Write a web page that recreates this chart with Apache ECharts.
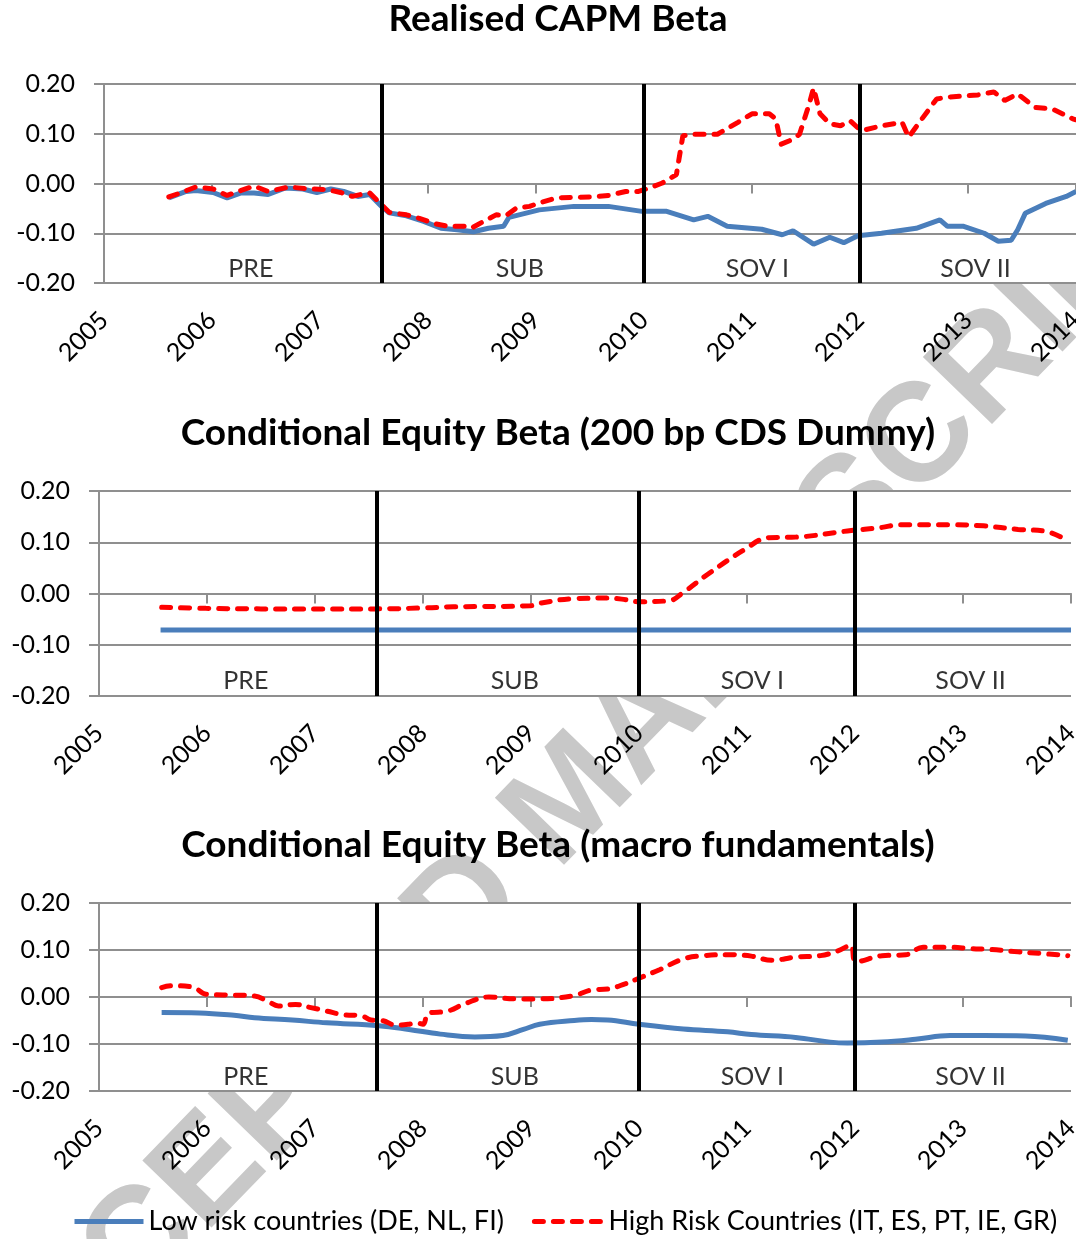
<!DOCTYPE html>
<html>
<head>
<meta charset="utf-8">
<script src="https://cdn.jsdelivr.net/npm/echarts@6/dist/echarts.min.js"></script>
<style>
  html, body { margin: 0; padding: 0; background: #fff; }
  #chart { width: 1076px; height: 1239px; }
</style>
</head>
<body>
<div id="chart"></div>
<script>
// panel titles
const panelTitles = [
  'Realised CAPM Beta',
  'Conditional Equity Beta (200 bp CDS Dummy)',
  'Conditional Equity Beta (macro fundamentals)'
];
const lowName = 'Low risk countries (DE, NL, FI)';
const highName = 'High Risk Countries (IT, ES, PT, IE, GR)';

// period markers
const periodNames = ['PRE', 'SUB', 'SOV I', 'SOV II'];
const periodX = [2006.36, 2008.85, 2011.05, 2013.07];
const periodY = -0.171;
const breakYears = [2007.57, 2010, 2012];

// [decimal year, beta]
const realisedLow = [
  [2005.60,-0.029],[2005.76,-0.016],[2005.85,-0.014],[2006.01,-0.018],[2006.14,-0.029],[2006.27,-0.019],
  [2006.39,-0.019],[2006.52,-0.022],[2006.68,-0.009],[2006.84,-0.011],[2006.97,-0.018],[2007.10,-0.011],
  [2007.22,-0.016],[2007.35,-0.026],[2007.46,-0.022],[2007.57,-0.046],[2007.64,-0.059],[2007.80,-0.065],
  [2007.96,-0.076],[2008.12,-0.090],[2008.27,-0.093],[2008.42,-0.097],[2008.56,-0.090],[2008.70,-0.086],
  [2008.75,-0.068],[2008.88,-0.061],[2009.03,-0.053],[2009.35,-0.046],[2009.67,-0.046],[2009.98,-0.056],
  [2010.21,-0.056],[2010.46,-0.073],[2010.59,-0.066],[2010.77,-0.086],[2011.09,-0.092],[2011.28,-0.103],
  [2011.38,-0.095],[2011.57,-0.122],[2011.72,-0.108],[2011.85,-0.119],[2011.98,-0.105],[2012.20,-0.100],
  [2012.52,-0.090],[2012.74,-0.073],[2012.81,-0.086],[2012.96,-0.086],[2013.15,-0.100],[2013.28,-0.116],
  [2013.40,-0.114],[2013.46,-0.093],[2013.53,-0.060],[2013.72,-0.040],[2013.91,-0.026],[2014.00,-0.016]
];
const realisedHigh = [
  [2005.60,-0.027],[2005.72,-0.018],[2005.85,-0.007],[2006.01,-0.011],[2006.14,-0.024],[2006.27,-0.014],
  [2006.39,-0.005],[2006.52,-0.016],[2006.71,-0.007],[2006.90,-0.011],[2007.06,-0.012],[2007.19,-0.018],
  [2007.30,-0.026],[2007.38,-0.022],[2007.46,-0.019],[2007.54,-0.036],[2007.64,-0.058],[2007.80,-0.063],
  [2007.92,-0.070],[2008.05,-0.080],[2008.18,-0.086],[2008.34,-0.086],[2008.40,-0.090],[2008.50,-0.078],
  [2008.63,-0.063],[2008.72,-0.065],[2008.82,-0.049],[2008.94,-0.046],[2009.03,-0.039],[2009.19,-0.029],
  [2009.51,-0.027],[2009.67,-0.024],[2009.83,-0.016],[2009.95,-0.016],[2010.05,-0.009],[2010.17,0.001],
  [2010.30,0.018],[2010.36,0.096],[2010.46,0.099],[2010.68,0.099],[2010.87,0.123],[2011.00,0.140],
  [2011.16,0.140],[2011.22,0.130],[2011.27,0.079],[2011.38,0.089],[2011.44,0.099],[2011.53,0.160],
  [2011.57,0.192],[2011.63,0.140],[2011.72,0.120],[2011.82,0.116],[2011.91,0.126],[2012.01,0.106],
  [2012.20,0.116],[2012.39,0.123],[2012.45,0.093],[2012.55,0.123],[2012.71,0.170],[2012.83,0.174],
  [2013.09,0.178],[2013.24,0.184],[2013.34,0.167],[2013.46,0.180],[2013.62,0.153],[2013.78,0.150],
  [2013.97,0.130],[2014.00,0.128]
];
const cdsLow = [[2005.57,-0.071],[2014.00,-0.071]];
const cdsHigh = [
  [2005.58,-0.027],[2005.99,-0.029],[2006.50,-0.030],[2007.00,-0.030],[2007.58,-0.030],[2008.03,-0.028],
  [2008.28,-0.026],[2008.99,-0.024],[2009.08,-0.019],[2009.40,-0.010],[2009.71,-0.009],[2009.84,-0.011],
  [2010.00,-0.016],[2010.28,-0.014],[2010.41,0.002],[2010.66,0.041],[2010.98,0.086],[2011.20,0.109],
  [2011.45,0.110],[2011.93,0.122],[2012.25,0.129],[2012.40,0.134],[2012.88,0.134],[2013.19,0.132],
  [2013.51,0.125],[2013.77,0.121],[2013.97,0.103]
];
const macroLow = [
  [2005.58,-0.033],[2005.93,-0.034],[2006.25,-0.039],[2006.44,-0.044],[2006.79,-0.049],[2007.11,-0.055],
  [2007.59,-0.061],[2007.87,-0.069],[2008.16,-0.079],[2008.48,-0.085],[2008.74,-0.082],[2008.93,-0.069],
  [2009.08,-0.058],[2009.40,-0.050],[2009.56,-0.048],[2009.71,-0.049],[2010.00,-0.058],[2010.41,-0.068],
  [2010.82,-0.074],[2011.04,-0.080],[2011.45,-0.086],[2011.77,-0.096],[2011.93,-0.098],[2012.25,-0.096],
  [2012.56,-0.090],[2012.88,-0.082],[2013.19,-0.082],[2013.58,-0.083],[2013.97,-0.092]
];
const macroHigh = [
  [2005.58,0.020],[2005.67,0.024],[2005.87,0.021],[2005.99,0.006],[2006.25,0.004],[2006.44,0.002],
  [2006.57,-0.010],[2006.66,-0.019],[2006.82,-0.016],[2006.95,-0.022],[2007.11,-0.030],[2007.27,-0.038],
  [2007.43,-0.040],[2007.52,-0.049],[2007.62,-0.050],[2007.75,-0.060],[2007.87,-0.058],[2007.94,-0.055],
  [2008.00,-0.058],[2008.05,-0.035],[2008.23,-0.030],[2008.39,-0.014],[2008.61,0.000],[2008.86,-0.004],
  [2009.08,-0.004],[2009.40,0.003],[2009.56,0.015],[2009.71,0.017],[2009.87,0.028],[2010.00,0.040],
  [2010.19,0.058],[2010.41,0.081],[2010.60,0.088],[2010.82,0.090],[2011.04,0.087],[2011.23,0.078],
  [2011.45,0.085],[2011.68,0.088],[2011.84,0.098],[2011.96,0.110],[2012.01,0.075],[2012.25,0.088],
  [2012.47,0.090],[2012.63,0.106],[2012.88,0.106],[2013.07,0.103],[2013.26,0.101],[2013.51,0.096],
  [2013.70,0.093],[2013.97,0.088]
];

const panels = [
  { low: realisedLow, high: realisedHigh, smooth: false, grid: { left: 104, right: 0, top: 84, height: 199 }, titleTop: 1 },
  { low: cdsLow, high: cdsHigh, smooth: 0.4, grid: { left: 99, right: 5, top: 491, height: 205 }, titleTop: 415 },
  { low: macroLow, high: macroHigh, smooth: 0.4, grid: { left: 99, right: 5, top: 903, height: 188 }, titleTop: 827 }
];

const FONT = 'Lato';
const GRID_GRAY = '#8f8f8f';
const BLUE = '#4a7ebb';
const RED = '#ff0000';

const chart = echarts.init(document.getElementById('chart'), null, { renderer: 'canvas' });

const grids = [], xAxes = [], yAxes = [], series = [], titles = [];

panels.forEach((p, i) => {
  grids.push(Object.assign({
    show: true, backgroundColor: '#fff', borderWidth: 0,
    containLabel: false, outerBoundsMode: 'none'
  }, p.grid));

  titles.push({
    text: panelTitles[i], left: 558, top: p.titleTop, textAlign: 'center', padding: 0,
    textStyle: { fontFamily: FONT, fontWeight: 'bold', fontSize: 37, color: '#000' }
  });

  // labelled axis at the bottom of the plot
  xAxes.push({
    type: 'value', gridIndex: i, min: 2005, max: 2014, interval: 1, position: 'bottom',
    axisLine: { show: false, onZero: false }, axisTick: { show: false }, splitLine: { show: false },
    axisLabel: {
      rotate: 45, margin: 33, formatter: v => String(v),
      fontFamily: FONT, fontSize: 25, color: '#000'
    }
  });
  // tick axis that crosses at zero, like the Excel chart
  xAxes.push({
    type: 'value', gridIndex: i, min: 2005, max: 2014, interval: 1, position: 'top',
    axisLine: { show: true, onZero: true, lineStyle: { color: GRID_GRAY, width: 2 } },
    axisTick: { show: true, inside: true, length: 10, lineStyle: { color: GRID_GRAY, width: 2 } },
    axisLabel: { show: false }, splitLine: { show: false }
  });

  yAxes.push({
    type: 'value', gridIndex: i, min: -0.2, max: 0.2, interval: 0.1,
    axisLine: { show: true, lineStyle: { color: GRID_GRAY, width: 2 } },
    axisTick: { show: true, length: 10, lineStyle: { color: GRID_GRAY, width: 2 } },
    splitLine: { show: true, lineStyle: { color: GRID_GRAY, width: 2 } },
    axisLabel: {
      margin: 29, fontFamily: FONT, fontSize: 25, color: '#000',
      formatter: v => (Math.abs(v) < 1e-9 ? '0.00' : v.toFixed(2))
    }
  });

  const xi = i * 2;
  series.push({
    name: lowName, type: 'line', xAxisIndex: xi, yAxisIndex: i,
    data: p.low, smooth: p.smooth, symbol: 'none', z: 2,
    lineStyle: { color: BLUE, width: 5 }, itemStyle: { color: BLUE }
  });
  series.push({
    name: highName, type: 'line', xAxisIndex: xi, yAxisIndex: i,
    data: p.high, smooth: p.smooth, symbol: 'none', z: 3,
    lineStyle: { color: RED, width: 5, type: [9, 10], cap: 'round' }, itemStyle: { color: RED }
  });
  // period names and the black break lines
  series.push({
    name: 'periods', type: 'scatter', xAxisIndex: xi, yAxisIndex: i, z: 5,
    symbolSize: 0, silent: true,
    data: periodNames.map((n, k) => ({ name: n, value: [periodX[k], periodY] })),
    label: {
      show: true, position: 'inside', formatter: '{b}',
      fontFamily: FONT, fontSize: 25, color: '#000'
    },
    markLine: {
      silent: true, symbol: ['none', 'none'], label: { show: false },
      lineStyle: { color: '#000', width: 4, type: 'solid' },
      data: breakYears.map(y => ({ xAxis: y }))
    }
  });
});

const option = {
  animation: false,
  backgroundColor: '#fff',
  title: titles,
  legend: {
    data: [lowName, highName],
    left: 72, top: 1208, padding: 0, itemWidth: 69, itemHeight: 28, itemGap: 28,
    itemStyle: { opacity: 0 },
    lineStyle: { width: 5 },
    textStyle: { fontFamily: FONT, fontSize: 27, color: '#000' }
  },
  graphic: [{
    type: 'text', z: -100, silent: true,
    x: 573, y: 800, rotation: 0.80,
    style: {
      text: 'ACCEPTED MANUSCRIPT', fill: '#c8c8c8',
      font: 'bold 140px "Liberation Sans"', textAlign: 'center', textVerticalAlign: 'middle'
    }
  }],
  grid: grids,
  xAxis: xAxes,
  yAxis: yAxes,
  series: series
};

chart.setOption(option);
</script>
</body>
</html>
